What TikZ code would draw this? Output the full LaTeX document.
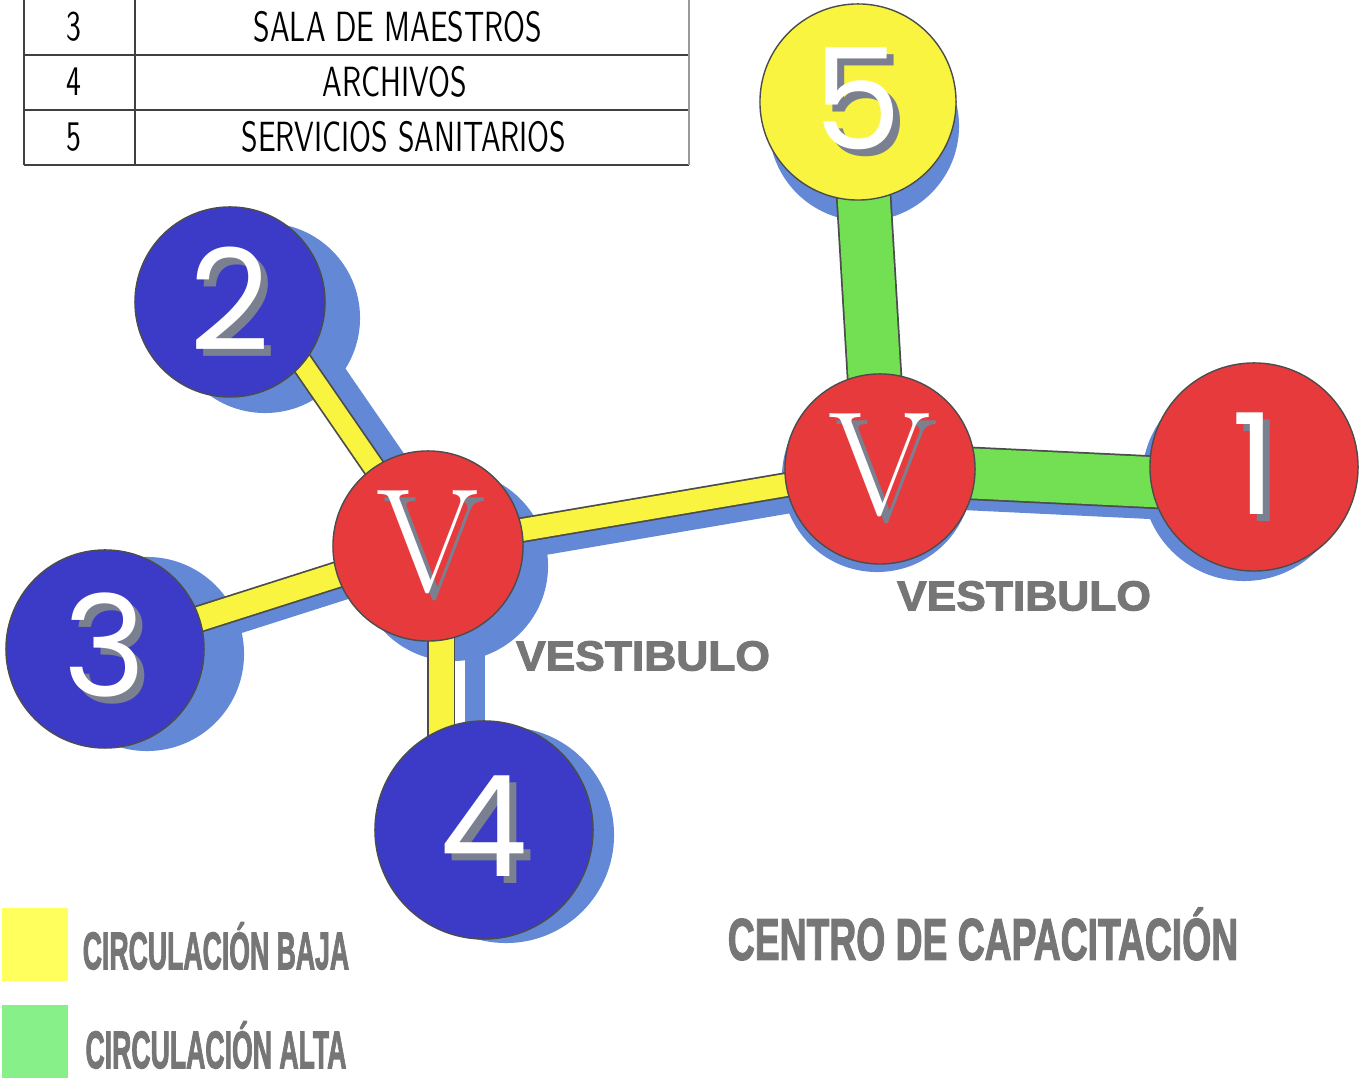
\documentclass[tikz,border=0pt]{standalone}
\usepackage{fontspec}
\usepackage{graphicx}
\usepackage{tikz}
\usetikzlibrary{positioning, calc}
\newfontfamily\digitfont{Poppins}
\newfontfamily\signfont{Liberation Sans}[BoldFeatures={FakeBold=2.5}]
\definecolor{vred}{HTML}{E63A3C}
\definecolor{vblue}{HTML}{3B3BC8}
\definecolor{vshade}{HTML}{6389D6}
\definecolor{vyellow}{HTML}{F8F440}
\definecolor{vgreen}{HTML}{72E052}
\definecolor{lyellow}{HTML}{FFFF5E}
\definecolor{lgreen}{HTML}{88F088}
\definecolor{lgray}{HTML}{767676}
\definecolor{embgray}{HTML}{7A8090}
\pgfdeclarelayer{shade}
\pgfdeclarelayer{bars}
\pgfsetlayers{shade,bars,main}
\newcommand{\embossed}[1]{\rlap{\kern2pt\raisebox{-2pt}{\textcolor{embgray}{#1}}}\textcolor{white}{#1}}
\newcommand{\cad}[1]{\scalebox{0.72}[1]{#1}}
\tikzset{
  room/.style={circle, draw=black!70, line width=0.4pt, inner sep=0pt, fill=vblue,
               minimum size=#1, font=\digitfont\fontsize{40}{40}\selectfont},
  hall/.style={circle, draw=black!70, line width=0.4pt, inner sep=0pt, fill=vred,
               minimum size=1.9cm, font=\fontsize{42}{42}\selectfont},
  lowbar/.style={draw=black!70, line width=0.5pt, double=vyellow, double distance=#1},
  highbar/.style={draw=black!70, line width=0.5pt, double=vgreen, double distance=#1},
  barshade/.style={draw=vshade, line width=#1},
  sign/.style={text=lgray, inner sep=0pt},
  cell/.style={font=\sffamily\fontsize{12}{12}\selectfont, inner sep=0pt},
  tabline/.style={draw=black!75, line width=0.5pt},
  swatch/.style={minimum width=0.66cm, minimum height=0.73cm, inner sep=0pt}
}

\begin{document}
\begin{tikzpicture}[x=0.01cm, y=-0.01cm]
  \useasboundingbox (0,0) rectangle (1363,1080);

  % table of rooms
  \foreach \r in {55,110,165} \draw[tabline] (24,\r) -- (689,\r);
  \draw[tabline] (24,0) -- (24,165);
  \draw[tabline] (135,0) -- (135,165);
  \draw[black!40, line width=0.4pt] (689,0) -- (689,165);
  \node[cell] (t3) at (74,27) {\cad{3}};
  \node[cell] (s3) at (398,27) {\cad{SALA DE MAESTROS}};
  \node[cell] (t4) at (74,82) {\cad{4}};
  \node[cell] (s4) at (395,82) {\cad{ARCHIVOS}};
  \node[cell] (t5) at (74,137) {\cad{5}};
  \node[cell] (s5) at (404,137) {\cad{SERVICIOS SANITARIOS}};

  % rooms and halls
  \node[hall] (vl) at (428,546) {\embossed{V}};
  \node[hall] (vr) at (880,469) {\embossed{V}};
  \node[room=2.08cm, fill=vred] (n1) at (1254,467) {\embossed{1}};
  \node[room=1.9cm] (n2) at (230,302) {\embossed{2}};
  \node[room=1.98cm] (n3) at (105,649) {\embossed{3}};
  \node[room=2.18cm] (n4) at (484,830) {\embossed{4}};
  \node[room=1.96cm, fill=vyellow] (n5) at (858,102) {\embossed{5}};

  % circulation
  \begin{pgfonlayer}{bars}
    \draw[lowbar=0.2cm] ([xshift=0.3cm]n2.center) -- (vl.center);
    \draw[lowbar=0.24cm] (n3.center) -- (vl.center);
    \draw[lowbar=0.22cm] (vl.center) -- (vr.center);
    \draw[lowbar=0.25cm] ([xshift=0.13cm]vl.center) -- ([xshift=0.13cm]vl.center |- n4.center);
    \draw[highbar=0.52cm] (n5.center) -- (vr.center);
    \draw[highbar=0.5cm] (vr.center) -- ([yshift=-0.2cm]n1.center);
  \end{pgfonlayer}

  % shadows
  \begin{pgfonlayer}{shade}
    \fill[vshade] ([shift={(35,16)}]n2.center) circle[radius=0.95cm];
    \fill[vshade] ([shift={(42,5)}]n3.center) circle[radius=0.97cm];
    \fill[vshade] ([shift={(25,20)}]vl.center) circle[radius=0.95cm];
    \fill[vshade] ([shift={(22,5)}]n4.center) circle[radius=1.08cm];
    \fill[vshade] ([shift={(6,24)}]n5.center) circle[radius=0.95cm];
    \fill[vshade] ([shift={(-3,8)}]vr.center) circle[radius=0.95cm];
    \fill[vshade] ([shift={(-10,12)}]n1.center) circle[radius=1.02cm];
    \draw[barshade=0.24cm] ([shift={(55,0)}]n2.center) -- ([shift={(25,0)}]vl.center);
    \draw[barshade=0.24cm] ([shift={(0,15)}]n3.center) -- ([shift={(0,15)}]vl.center);
    \draw[barshade=0.24cm] ([shift={(5,16)}]vl.center) -- ([shift={(5,16)}]vr.center);
    \draw[barshade=0.2cm] ([shift={(47,0)}]vl.center) -- ([shift={(47,0)}]vl.center |- n4.center);
    \draw[barshade=0.5cm] ([shift={(0,12)}]vr.center) -- ([shift={(0,32)}]n1.center);
  \end{pgfonlayer}

  % labels
  \node[sign, font=\signfont\bfseries\fontsize{11.9}{12}\selectfont] (hallr) at (1024,596) {\scalebox{1.06}[1]{VESTIBULO}};
  \node[sign, font=\signfont\bfseries\fontsize{11.9}{12}\selectfont] (halll) at (643,656) {\scalebox{1.06}[1]{VESTIBULO}};
  \node[sign, font=\signfont\bfseries\fontsize{16.7}{17}\selectfont] (title) at (983,934) {\scalebox{0.635}[1]{CENTRO DE CAPACITACIÓN}};

  % legend
  \node[swatch, fill=lyellow] (lowkey) at (35,944.5) {};
  \node[swatch, fill=lgreen] (highkey) at (35,1041.5) {};
  \node[sign, font=\signfont\bfseries\fontsize{15}{15}\selectfont] (lowtxt) at (216,946) {\scalebox{0.505}[1]{CIRCULACIÓN BAJA}};
  \node[sign, font=\signfont\bfseries\fontsize{15}{15}\selectfont] (hightxt) at (216,1045) {\scalebox{0.505}[1]{CIRCULACIÓN ALTA}};
\end{tikzpicture}
\end{document}
